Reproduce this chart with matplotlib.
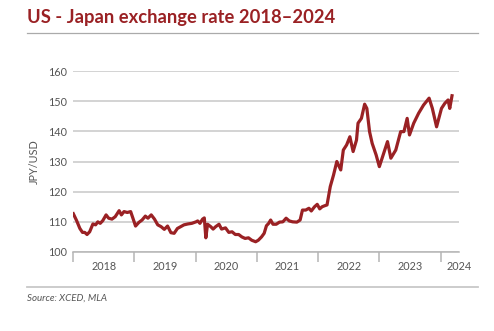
import matplotlib
matplotlib.use("Agg")
import matplotlib.pyplot as plt
from matplotlib.lines import Line2D

plt.rcParams['font.family'] = ['Lato', 'DejaVu Sans']

# decimal year, JPY per USD
years = [2018.005, 2018.059, 2018.112, 2018.155, 2018.192, 2018.229, 2018.272, 2018.325,
         2018.369, 2018.405, 2018.444, 2018.486, 2018.540, 2018.582, 2018.636, 2018.689,
         2018.753, 2018.790, 2018.833, 2018.886, 2018.941, 2018.978, 2019.021, 2019.074,
         2019.127, 2019.181, 2019.223, 2019.277, 2019.330, 2019.383, 2019.438, 2019.490,
         2019.543, 2019.598, 2019.651, 2019.704, 2019.758, 2019.811, 2019.875, 2019.939,
         2020.008, 2020.035, 2020.072, 2020.115, 2020.143, 2020.168, 2020.196, 2020.248,
         2020.287, 2020.329, 2020.383, 2020.425, 2020.489, 2020.543, 2020.596, 2020.649,
         2020.704, 2020.756, 2020.809, 2020.864, 2020.917, 2020.981, 2021.024, 2021.077,
         2021.120, 2021.157, 2021.194, 2021.226, 2021.264, 2021.317, 2021.370, 2021.425,
         2021.478, 2021.530, 2021.585, 2021.654, 2021.707, 2021.745, 2021.798, 2021.851,
         2021.889, 2021.942, 2021.986, 2022.027, 2022.066, 2022.103, 2022.146, 2022.199,
         2022.252, 2022.306, 2022.370, 2022.412, 2022.466, 2022.519, 2022.572, 2022.627,
         2022.652, 2022.707, 2022.760, 2022.796, 2022.840, 2022.883, 2022.947, 2023.000,
         2023.053, 2023.133, 2023.188, 2023.268, 2023.348, 2023.401, 2023.454, 2023.492,
         2023.561, 2023.641, 2023.721, 2023.812, 2023.865, 2023.934, 2024.014, 2024.069,
         2024.122, 2024.149, 2024.186]
rate = [112.7, 110.4, 107.8, 106.5, 106.5, 105.8, 106.7, 109.3,
        109.0, 110.0, 109.5, 110.4, 112.3, 111.2, 110.9, 111.7,
        113.7, 112.3, 113.4, 113.1, 113.4, 111.2, 108.6, 109.8,
        110.6, 111.9, 111.2, 112.3, 110.9, 109.0, 108.4, 107.5,
        108.6, 106.4, 106.2, 107.8, 108.4, 109.0, 109.3, 109.5,
        110.0, 110.3, 109.5, 110.9, 111.3, 104.7, 109.2, 108.4,
        107.6, 108.4, 109.2, 107.6, 108.0, 106.5, 106.7, 105.8,
        105.8, 105.0, 104.5, 104.7, 103.9, 103.4, 103.9, 105.0,
        106.2, 108.7, 109.5, 110.6, 109.2, 109.2, 109.9, 110.0,
        111.2, 110.3, 110.0, 109.9, 110.6, 113.9, 113.9, 114.5,
        113.6, 115.0, 115.8, 114.3, 115.0, 115.3, 115.6, 121.7,
        125.5, 130.0, 127.2, 133.8, 135.5, 138.2, 133.3, 137.1,
        142.7, 144.3, 149.0, 147.6, 139.9, 136.0, 132.2, 128.3,
        131.6, 136.6, 131.1, 133.8, 139.9, 139.9, 144.3, 138.8,
        142.7, 146.0, 148.7, 151.0, 147.6, 141.5, 147.6, 149.3,
        150.4, 147.6, 151.8]

year_labels = ['2018', '2019', '2020', '2021', '2022', '2023', '2024']
year_label_pos = [2018.5, 2019.5, 2020.5, 2021.5, 2022.5, 2023.5, 2024.3]
yticks = [100, 110, 120, 130, 140, 150, 160]

red = '#9a2124'
grey_txt = '#555555'

W, H = 494, 331
fig = plt.figure(figsize=(W / 100, H / 100), dpi=100)
ax = fig.add_axes([73 / W, 1 - 252 / H, (459 - 73) / W, (252 - 71) / H])

ax.plot(years, rate, color=red, lw=2.3, solid_joinstyle='round', zorder=3)

ax.set_xlim(2018, 2024.19)
ax.set_ylim(100, 160)
ax.set_yticks(yticks)
ax.grid(axis='y', color='#c8c8c8', lw=1.1)
ax.set_axisbelow(True)
for s in ['top', 'right', 'left']:
    ax.spines[s].set_visible(False)
ax.spines['bottom'].set_color('#b5b5b5')
ax.spines['bottom'].set_linewidth(1.1)

ax.set_xticks(range(2018, 2025))
ax.set_xticklabels([])
ax.tick_params(axis='x', which='major', length=7.5, color='#b5b5b5', width=1.1)
ax.set_xticks(year_label_pos, minor=True)
ax.set_xticklabels(year_labels, minor=True)
ax.tick_params(axis='x', which='minor', length=0, pad=6.5, labelsize=7.8, labelcolor=grey_txt)
ax.tick_params(axis='y', length=0, pad=4, labelsize=7.8, labelcolor=grey_txt)

ax.set_ylabel('JPY/USD', fontsize=7.8, color=grey_txt, labelpad=6)

fig.text(27 / W, 1 - 17 / H, 'US - Japan exchange rate 2018\u20132024', color=red,
         fontsize=13.2, fontweight='bold', va='center', ha='left')
fig.add_artist(Line2D([27 / W, 478 / W], [1 - 33 / H, 1 - 33 / H], color='#aaaaaa', lw=0.9))
fig.add_artist(Line2D([27 / W, 478 / W], [1 - 287 / H, 1 - 287 / H], color='#c8c8c8', lw=1.3))
fig.text(27 / W, 1 - 298 / H, 'Source: XCED, MLA', color=grey_txt, fontsize=7,
         style='italic', va='center', ha='left')

fig.savefig('out.png', dpi=100)
